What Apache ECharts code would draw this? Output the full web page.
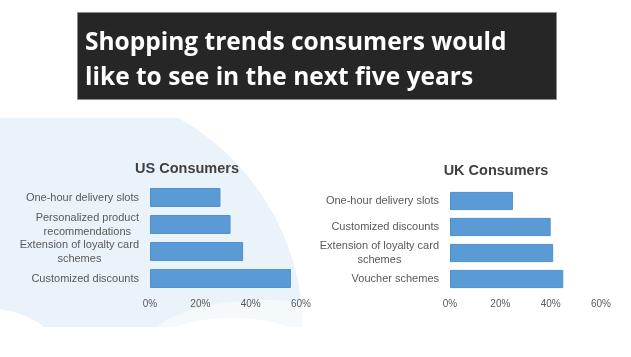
<!DOCTYPE html>
<html>
<head>
<meta charset="utf-8">
<script src="https://cdn.jsdelivr.net/npm/echarts@6/dist/echarts.min.js"></script>
<style>
html,body{margin:0;padding:0;background:#fff;}
#chart{width:631px;height:357px;}
</style>
</head>
<body>
<div id="chart"></div>
<script>
const mainTitle = 'Shopping trends consumers would\nlike to see in the next five years';
const usTitle = 'US Consumers';
const ukTitle = 'UK Consumers';
const usCategories = ['One-hour delivery slots', 'Personalized product\nrecommendations', 'Extension of loyalty card\nschemes', 'Customized discounts'];
const usValues = [28, 32, 37, 56];
const ukCategories = ['One-hour delivery slots', 'Customized discounts', 'Extension of loyalty card\nschemes', 'Voucher schemes'];
const ukValues = [25, 40, 41, 45];
const xTickValues = [0, 20, 40, 60];

const chart = echarts.init(document.getElementById('chart'), null, {renderer: 'canvas'});

const labelColor = '#595959';
const barColor = '#5b9bd5';

function yAxisFor(gridIndex, cats) {
  return {
    type: 'category', gridIndex: gridIndex, data: cats, inverse: true,
    axisLine: {show: false}, axisTick: {show: false}, splitLine: {show: false},
    axisLabel: {
      margin: 11,
      formatter: function (v) { return v.split('\n').map(function (l) { return '{c|' + l + '}'; }).join('\n'); },
      rich: {c: {align: 'center', fontSize: 11, color: labelColor, lineHeight: 14, fontFamily: 'Liberation Sans, Arial, sans-serif'}}
    }
  };
}
function xAxisFor(gridIndex) {
  return {
    type: 'value', gridIndex: gridIndex, min: xTickValues[0], max: xTickValues[xTickValues.length - 1], interval: xTickValues[1] - xTickValues[0],
    axisLine: {show: false}, axisTick: {show: false}, splitLine: {show: false},
    axisLabel: {margin: 7, color: labelColor, fontSize: 10, fontFamily: 'Liberation Sans, Arial, sans-serif', formatter: '{value}%'}
  };
}
function barSeries(idx, values) {
  return {
    type: 'bar', xAxisIndex: idx, yAxisIndex: idx, data: values,
    barCategoryGap: '30%',
    itemStyle: {color: barColor, borderColor: '#4f8fcd', borderWidth: 1},
    silent: true
  };
}

chart.setOption({
  animation: false,
  backgroundColor: '#ffffff',
  graphic: [
    {type: 'circle', z: -10, shape: {cx: 60, cy: 330, r: 243}, style: {fill: '#eaf3fa'}, silent: true},
    {type: 'ellipse', z: -9, shape: {cx: 265, cy: 345, rx: 118, ry: 45}, style: {fill: '#f4f9fc'}, silent: true},
    {type: 'ellipse', z: -8, shape: {cx: 232, cy: 345, rx: 75, ry: 27}, style: {fill: '#ffffff'}, silent: true},
    {type: 'ellipse', z: -8, shape: {cx: -40, cy: 340, rx: 90, ry: 35}, style: {fill: '#ffffff'}, silent: true},
    {type: 'ring', z: -7, shape: {cx: 60, cy: 330, r0: 243, r: 900}, style: {fill: '#ffffff'}, silent: true},
    {type: 'rect', z: -6, shape: {x: 0, y: 0, width: 631, height: 118}, style: {fill: '#ffffff'}, silent: true},
    {type: 'rect', z: -6, shape: {x: 0, y: 327, width: 631, height: 30}, style: {fill: '#ffffff'}, silent: true},
    {type: 'rect', z: -5, shape: {x: 77.5, y: 12.5, width: 479, height: 87}, style: {fill: '#262626', stroke: '#8c8c8c', lineWidth: 1}, silent: true}
  ],
  title: [
    {text: mainTitle, left: 80, top: 21, textStyle: {color: '#ffffff', fontSize: 24.5, fontWeight: 'bold', lineHeight: 35, fontFamily: 'Open Sans, Liberation Sans, sans-serif'}},
    {text: usTitle, left: 182, top: 156, textAlign: 'center', textStyle: {color: '#404040', fontSize: 14.5, fontWeight: 'bold', fontFamily: 'Liberation Sans, Arial, sans-serif'}},
    {text: ukTitle, left: 491, top: 158, textAlign: 'center', textStyle: {color: '#404040', fontSize: 14.5, fontWeight: 'bold', fontFamily: 'Liberation Sans, Arial, sans-serif'}}
  ],
  grid: [
    {left: 150, width: 151, top: 184, height: 108},
    {left: 450, width: 151, top: 188, height: 104}
  ],
  xAxis: [xAxisFor(0), xAxisFor(1)],
  yAxis: [yAxisFor(0, usCategories), yAxisFor(1, ukCategories)],
  series: [barSeries(0, usValues), barSeries(1, ukValues)]
});
</script>
</body>
</html>
